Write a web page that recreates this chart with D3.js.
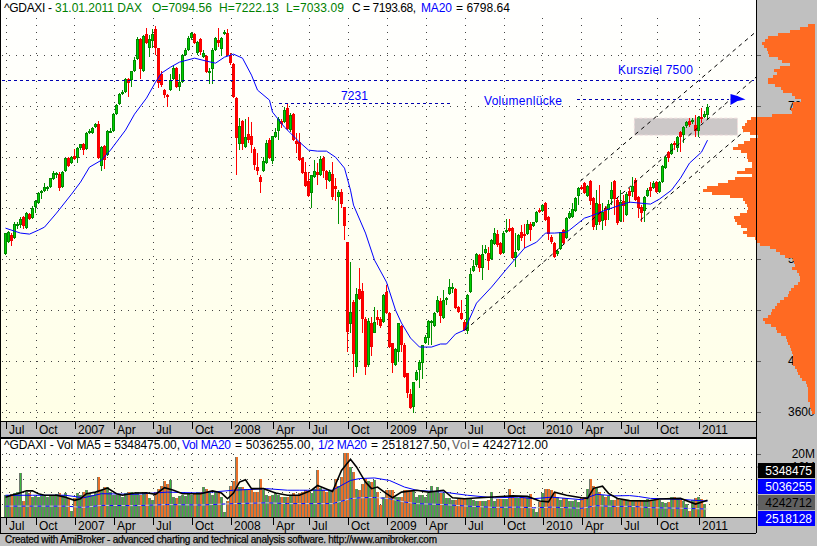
<!DOCTYPE html>
<html>
<head>
<meta charset="utf-8">
<script src="https://cdn.jsdelivr.net/npm/d3@7"></script>
<style>
  html, body { margin: 0; padding: 0; background: #c0c0c0; }
  svg { display: block; }
  text { font-family: "Liberation Sans", Arial, sans-serif; font-size: 12px; }
</style>
</head>
<body>
<svg id="chart" width="817" height="546"></svg>
<script>
// weekly DAX candles (index 0 = July 2006)
const opens = [5458,5598,5681,5646,5787,5799,5893,5763,5928,5881,6011,6058,6175,6198,6234,6245,6340,6387,6398,6245,6433,6587,6528,6610,6587,6704,6751,6692,6881,6881,6951,6987,6492,6728,6622,6892,6904,7104,7222,7340,7363,7516,7504,7610,7751,7986,7610,8045,7881,7963,8104,7881,7575,7387,7328,7387,7516,7645,7422,7481,7798,7857,7998,8045,7822,7986,7775,7786,7587,7634,7857,7975,7869,8045,8057,7798,7692,7293,6751,7022,6716,6869,6845,6692,6481,6363,6433,6528,6798,6551,6834,6904,7022,7010,7175,6916,7104,6786,6775,6587,6422,6316,6175,6363,6422,6387,6587,6433,6316,6398,6257,6128,6187,6011,5598,4635,4893,4129,5046,5022,4693,4152,4646,4529,4717,4693,4658,5011,4764,4411,4152,4305,4611,4387,4058,3811,3659,3976,4094,4176,4411,4470,4658,4611,4775,4905,4705,4917,4987,5058,5046,4834,4764,4658,4552,5011,5258,5328,5446,5293,5469,5469,5399,5575,5693,5587,5469,5716,5763,5763,5411,5505,5716,5693,5693,5810,5787,5834,5975,5963,6058,5893,5658,5587,5458,5516,5740,5646,5881,5893,5963,6140,6245,6292,6140,6316,6116,5799,6046,5845,5999,5975,6105,6316,6093,5845,6081,5916,6198,6187,6328,6128,6011,5963,6140,6245,6234,6304,6187,6304,6469,6657,6634,6763,6704,6892,6857,6963,7022,7010,6975,6904,7069,7069,7094];
const highs = [5705,5728,5705,5834,5834,5893,5904,5952,5940,6022,6093,6187,6210,6292,6257,6355,6433,6422,6422,6433,6592,6598,6610,6692,6716,6755,6763,6892,6928,6951,6998,7022,6728,6740,6916,6940,7116,7222,7351,7387,7528,7528,7615,7775,8010,7998,8033,8116,8033,8104,8139,7885,7610,7398,7340,7575,7669,7657,7575,7810,7881,8022,8069,8057,7963,7998,7857,7798,7645,7881,8010,8116,8010,8092,8104,7822,7704,7304,7057,7034,7045,7069,7010,6716,6645,6387,6598,6798,6822,6850,6940,7069,7045,7187,7222,7116,7116,6881,6881,6598,6539,6422,6390,6563,6528,6610,6610,6445,6445,6539,6351,6210,6222,6015,5602,5363,4917,5058,5293,5116,4717,4705,4717,4834,4799,4717,4987,5093,4775,4415,4352,4650,4623,4411,4062,3870,3957,4094,4211,4392,4505,4682,4682,4775,4964,4940,5034,4952,5164,5116,5058,4846,4917,4682,4987,5293,5387,5469,5458,5563,5563,5540,5634,5763,5740,5598,5728,5869,5869,5775,5705,5693,5799,5810,5857,5834,5838,5963,5999,6046,6069,5904,5681,5598,5505,5720,5752,5893,5963,6058,6128,6245,6269,6304,6269,6328,6128,6210,6269,6058,6022,6093,6304,6328,6116,6210,6152,6187,6234,6363,6351,6140,6034,6140,6234,6304,6316,6316,6316,6504,6610,6669,6763,6786,6845,6904,6963,7022,7057,7057,7092,7081,7175,7139,7222];
const lows = [5446,5587,5552,5640,5752,5763,5752,5758,5857,5869,5940,6046,6105,6187,6198,6234,6328,6351,6198,6234,6428,6488,6516,6563,6528,6681,6622,6681,6869,6869,6940,6575,6433,6457,6610,6881,6892,7092,7210,7328,7351,7304,7422,7598,7739,7516,7598,7928,7775,7881,7798,7410,7422,7293,7187,7375,7504,7410,7375,7469,7786,7845,7975,7928,7798,7798,7763,7587,7457,7457,7845,7892,7786,8033,7790,7681,7296,6387,6681,6681,6704,6763,6645,6445,6387,6175,6428,6516,6575,6516,6822,6798,6940,7005,6916,6892,6786,6645,6558,6398,6245,6128,5999,6351,6269,6375,6351,6222,6304,6093,6081,5810,5999,5622,4305,4529,4011,4058,4917,4529,4035,4129,4258,4525,4623,4587,4646,4752,4352,4058,4140,4188,4305,4000,3765,3635,3590,3965,3882,3988,4400,4387,4387,4600,4764,4646,4693,4858,4976,4999,4811,4764,4682,4552,4517,4999,5246,5305,5246,5152,5458,5269,5387,5563,5540,5446,5458,5705,5716,5399,5305,5493,5611,5528,5681,5611,5775,5822,5940,5952,5845,5622,5575,5411,5434,5505,5575,5634,5869,5881,5952,6034,6210,6163,6128,6034,5740,5740,5799,5740,5787,5857,6034,5916,5799,5834,5834,5904,6058,6128,6081,5881,5834,5834,6128,6128,6222,6175,6175,6292,6457,6539,6622,6681,6657,6657,6763,6940,6951,6987,6834,6834,6998,7057,7033];
const closes = [5705,5716,5611,5810,5810,5869,5787,5940,5869,5999,6081,6175,6198,6245,6245,6351,6410,6410,6234,6422,6587,6492,6598,6575,6704,6751,6681,6881,6904,6940,6987,6587,6716,6563,6904,6904,7104,7210,7340,7363,7516,7469,7610,7739,7986,7634,8022,7939,7986,8045,7881,7469,7445,7328,7316,7504,7645,7422,7481,7798,7857,7998,8057,7939,7951,7833,7822,7598,7610,7857,7998,7939,7998,8069,7798,7704,7304,6822,6963,6751,6834,6798,6740,6504,6433,6304,6551,6763,6587,6845,6892,7045,6987,7151,6928,7092,6798,6751,6563,6410,6257,6140,6387,6433,6387,6575,6433,6328,6422,6128,6222,6187,6046,5787,4540,4775,4282,4987,4928,4693,4129,4670,4364,4658,4682,4611,4976,4764,4364,4176,4340,4646,4387,4011,3823,3647,3953,4070,4188,4387,4482,4670,4670,4764,4917,4728,4917,4940,5069,5069,4823,4775,4693,4564,4976,5222,5316,5458,5293,5458,5516,5375,5622,5705,5563,5458,5705,5740,5728,5411,5481,5681,5646,5669,5810,5740,5834,5952,5952,6034,5857,5693,5598,5422,5493,5716,5587,5881,5940,5987,6116,6234,6234,6175,6257,6081,5775,6058,5834,5952,5857,6046,6210,6105,5822,6069,6022,6163,6140,6257,6093,5999,5940,6128,6210,6198,6292,6187,6304,6492,6598,6587,6751,6740,6834,6834,6951,7010,6975,7034,6904,7069,7057,7104,7193];

// 20 week average, read at the bends of the blue line
const ma20Weeks = [0,3,5,8,11,13,17,22,25,28,32,35,38,40,43,47,50,52,55,58,63,67,70,73,76,79,82,84,88,89,93,98,101,104,107,110,113,115,116,120,123,127,130,132,135,138,142,145,147,150,153,157,162,167,173,177,180,183,187,188,193,195,200,203,208,215,218,222,225,228,232,234];
const ma20Values = [5763,5728,5705,5693,5740,5775,5940,6163,6304,6481,6563,6681,6822,6916,7104,7293,7481,7587,7657,7716,7763,7728,7704,7775,7810,7763,7563,7387,7269,7128,6951,6775,6681,6669,6669,6598,6469,6210,6034,5705,5387,5128,4799,4646,4470,4364,4364,4400,4400,4517,4564,4881,5069,5281,5528,5598,5705,5705,5716,5740,5881,5904,5975,6011,6069,6046,6105,6210,6351,6528,6657,6798];

// weekly volume in millions
const volumes = [6.9,6.9,7.2,7.5,8,14,5,7.8,7.5,6.5,6.8,6.5,6.9,6.8,6.5,7,6.9,7.2,7.6,7,7.5,6,2,6,7.5,7,8,8.5,7.5,7,7.5,12.7,8.5,9.5,9.5,8,7,7,7,6.5,7.5,7.8,8,7.5,7.8,7,7.5,7.2,6,5.5,8,9,10,11.3,10.5,11.6,6.5,6,6.8,7,6.8,7.5,7,7.2,7.8,8,9.5,9,7.5,7,7.8,7.5,6.5,1.5,5,10,11.3,19,9.5,9.5,9,8.5,9,8,8,12,8.5,7,6.8,7,7.5,7,6.5,6.5,6.5,7,7.5,7,7.5,8,8.5,8,7.5,9,14.8,9.2,8.5,8,8.5,8.5,12,10,12.7,20.3,20.3,15.9,14.3,9,8.5,10.6,12,11.5,11,11.6,8,3.7,6.4,8.5,8.5,8.5,6.4,6.5,6.4,8.5,8.5,8.5,8.5,6.5,7,7,6.4,7.5,10,8,9.5,7.5,7.5,6,6,5.5,5.5,5.8,5.7,5.8,5.7,5.8,5.3,5.2,5.2,5.2,5.1,5.5,8,5.2,5.8,5.8,5.8,5.8,8.8,6.4,6,6,6.3,6.3,6.5,7.4,2.6,1.6,4.8,7.5,9,9,8.5,7.5,6.5,5.5,6,6,5.2,5.2,5.5,4.8,6.5,6.5,9,12,10,9.5,8,7,6.5,6.8,5.4,5.5,6,5.5,5.3,5.3,5.4,5.3,5.3,5.4,5.3,5.3,5.7,5.5,5.5,6,5.4,4.8,4.6,4.8,6.5,6.5,6,5.5,5,4,2,5.5,6,6.5,5.8,4.24];

const volMa5Weeks = [0,2,4,7,9,11,13,17,20,23,25,27,30,34,37,39,43,47,50,53,56,59,65,69,72,74,76,78,80,82,86,90,94,98,102,104,109,112,115,117,120,122,124,127,129,132,137,141,146,149,153,158,169,174,178,181,183,187,192,194,196,199,201,204,208,214,218,225,230,234];
const volMa5Values = [6.3,6.9,7.4,8.3,8.3,7.4,6.9,6.9,6.3,5.3,5.8,7.4,7.9,9.2,7.4,6.9,7.6,7.7,7.2,9.3,8.5,7.4,7.4,8.3,7.6,5.8,7.6,11.1,11.8,9,9,7.6,6.9,6.9,8.5,10,8.1,14.8,18.3,15.9,11.1,9,9.5,7.4,6.1,7.9,8.5,7.9,8.5,6.1,5.8,6.1,6.7,6.6,5.1,4.8,7.9,6.9,6.1,5.9,9.1,9.8,7.5,5.9,5.2,5.1,5.7,5.9,4.1,5.35];

const volMa20Weeks = [0,9,20,26,32,43,54,65,76,87,94,98,105,109,115,118,123,128,133,137,146,154,163,171,176,182,192,197,203,208,211,215,225,234];
const volMa20Values = [6.9,6.9,6.9,6.1,7.4,7.2,7.9,7.6,8.5,9,8.5,8.5,8.5,8.5,11.6,12.2,12.4,11.6,9.5,8.5,7.9,6.9,6.1,6.3,5.8,6.3,5.5,7.2,6.7,6.8,6.5,5.9,5.6,5.04];
const volHalfValues = [3.45,3.45,3.45,3.05,3.7,3.6,3.95,3.8,4.25,4.5,4.25,4.25,4.25,4.25,5.8,6.1,6.2,5.8,4.75,4.25,3.95,3.45,3.05,3.15,2.9,3.15,2.75,3.6,3.35,3.4,3.25,2.95,2.8,2.52];

// volume at price, top bin first
const profileTop = 8151, profileStep = 35.3;
const profileValues = [7,15,25,37,47,50,53,51,48,47,46,37,33,25,35,41,38,42,47,47,40,34,32,23,20,14,22,22,24,23,43,64,68,70,73,72,65,57,65,71,77,82,74,68,68,67,63,63,70,78,63,80,87,97,108,112,103,85,72,70,68,67,68,75,81,80,78,74,68,72,68,60,58,55,45,39,35,30,22,21,20,23,18,16,15,15,17,21,24,26,27,31,35,38,40,43,44,47,52,50,44,39,38,34,29,28,27,25,24,23,22,22,22,22,20,18,17,15,13,9,8,7,7,7,7,7,5,5,4,3];

const monthWeeks = [0,10,23,36,49,62,75,89,101,114,127,140,153,166,179,192,205,217,231];
const monthLabels = ["Jul","Oct","2007","Apr","Jul","Oct","2008","Apr","Jul","Oct","2009","Apr","Jul","Oct","2010","Apr","Jul","Oct","2011"];
const priceTicks = [3600,4200,4800,5400,6000,6600,7200,7800];
const volTicks = [4,8,12,16,20];
const volTickLabels = ["","","","16M","20M"];

// trend channel, as [week, price] pairs
const channelLines = [
  [[153.2,4564],[250.2,7540]],
  [[191.6,6316],[249.6,8057]],
  [[211.6,5857],[250.6,7034]]
];

const lastBoxes = [
  {label:"5348475", fill:"#000000", color:"#ffffff"},
  {label:"5036255", fill:"#0000ff", color:"#ffffff"},
  {label:"4242712", fill:"#606060", color:"#000000"},
  {label:"2518128", fill:"#0000ff", color:"#ffffff"}
];

const titleParts = [
  {x:4, t:"^GDAXI -", c:"#000", w:48},
  {x:55, t:"31.01.2011 DAX", c:"#008000", w:87},
  {x:152, t:"O=7094.56", c:"#008000", w:60},
  {x:219, t:"H=7222.13", c:"#008000", w:60},
  {x:286, t:"L=7033.09", c:"#008000", w:58},
  {x:352, t:"C = 7193.68,", c:"#000", w:64},
  {x:421, t:"MA20", c:"#0000ff", w:31},
  {x:456, t:"= 6798.64", c:"#000", w:54}
];
const volTitleParts = [
  {x:4, t:"^GDAXI - Vol MA5 = 5348475.00,", c:"#000", w:176},
  {x:182, t:"Vol MA20", c:"#0000ff", w:49},
  {x:235, t:"= 5036255.00,", c:"#000", w:79},
  {x:318, t:"1/2 MA20", c:"#0000ff", w:49},
  {x:371, t:"= 2518127.50,", c:"#000", w:79},
  {x:452, t:"Vol", c:"#606060", w:18},
  {x:472, t:"= 4242712.00", c:"#000", w:76}
];

const svg = d3.select("#chart");
const plotRight = 756, stripTop = 421, volTop = 437, volBottom = 517, stripBottom = 533;

const x = d3.scaleLinear().domain([0, 234]).range([5.5, 707.5]);
const y = d3.scaleLinear().domain([3600, 7800]).range([412, 55]);
const yVol = d3.scaleLinear().domain([0, 20]).range([volBottom, 454]);
const profileX = d3.scaleLinear().domain([0, 112]).range([815, 703]);

const defs = svg.append("defs");
const grad = defs.append("linearGradient").attr("id", "panelBg").attr("x1", 0).attr("x2", 0).attr("y1", 0).attr("y2", 1);
grad.append("stop").attr("offset", 0).attr("stop-color", "#ffffff");
grad.append("stop").attr("offset", 1).attr("stop-color", "#ffffe6");

// panels
svg.append("rect").attr("x", 0).attr("y", 0).attr("width", 817).attr("height", 546).attr("fill", "#c0c0c0");
svg.append("rect").attr("x", 1).attr("y", 0).attr("width", plotRight - 1).attr("height", stripTop).attr("fill", "url(#panelBg)");
svg.append("rect").attr("x", 1).attr("y", volTop).attr("width", plotRight - 1).attr("height", volBottom - volTop).attr("fill", "url(#panelBg)");

function grid(yScale, ticks, top, bottom) {
  const g = svg.append("g").attr("stroke", "#444").attr("stroke-dasharray", "1 6").attr("shape-rendering", "crispEdges");
  g.selectAll("line.h").data(ticks).join("line").attr("class", "h")
    .attr("x1", 2).attr("x2", plotRight)
    .attr("y1", d => Math.round(yScale(d)) + 0.5).attr("y2", d => Math.round(yScale(d)) + 0.5);
  g.selectAll("line.v").data(monthWeeks).join("line").attr("class", "v")
    .attr("x1", d => Math.round(x(d)) + 0.5).attr("x2", d => Math.round(x(d)) + 0.5)
    .attr("y1", top).attr("y2", bottom);
}
grid(y, priceTicks, 18, stripTop);
grid(yVol, volTicks, volTop + 16, volBottom);

// grey target zone
svg.append("rect")
  .attr("x", x(209.6)).attr("width", x(244) - x(209.6))
  .attr("y", y(7057)).attr("height", y(6857) - y(7057))
  .attr("fill", "#ccc8c8").attr("stroke", "#f2dede").attr("stroke-dasharray", "3 2");

// candles: wick, 3px body, bright core
const candles = svg.append("g").attr("shape-rendering", "crispEdges");
const weeks = d3.range(opens.length);
const isUp = i => closes[i] >= opens[i];
const bodyTop = i => Math.round(y(Math.max(opens[i], closes[i])));
const bodyHeight = i => Math.max(2, Math.round(y(Math.min(opens[i], closes[i]))) - bodyTop(i));
candles.selectAll("line").data(weeks).join("line")
  .attr("x1", x).attr("x2", x)
  .attr("y1", i => Math.round(y(highs[i]))).attr("y2", i => Math.round(y(lows[i])))
  .attr("stroke", i => isUp(i) ? "#009000" : "#ff0000");
candles.selectAll("rect.outer").data(weeks).join("rect").attr("class", "outer")
  .attr("x", i => x(i) - 1.5).attr("width", 3)
  .attr("y", bodyTop).attr("height", bodyHeight)
  .attr("fill", i => isUp(i) ? "#008a00" : "#f00000");
candles.selectAll("rect.inner").data(weeks).join("rect").attr("class", "inner")
  .attr("x", i => x(i) - 0.5).attr("width", i => isUp(i) ? 1 : 2)
  .attr("y", i => bodyTop(i) + 1).attr("height", i => Math.max(0, bodyHeight(i) - 2))
  .attr("fill", i => isUp(i) ? "#00d000" : "#ff0000");

// MA20
const maLine = d3.line().x((d, i) => x(ma20Weeks[i])).y(d => y(d));
svg.append("path").attr("d", maLine(ma20Values)).attr("fill", "none").attr("stroke", "#0000ff").attr("stroke-width", 1);

// channel and horizontal levels
const priceLine = d3.line().x(d => x(d[0])).y(d => y(d[1]));
svg.selectAll("path.channel").data(channelLines).join("path").attr("class", "channel")
  .attr("d", priceLine).attr("fill", "none").attr("stroke", "#000").attr("stroke-dasharray", "4 4");

const levels = [
  [[-1.3,7500],[249.5,7500]],
  [[91,7231],[149,7231]],
  [[190.6,7281],[241,7281]]
];
svg.selectAll("path.level").data(levels).join("path").attr("class", "level")
  .attr("d", priceLine).attr("fill", "none").attr("stroke", "#0000b0").attr("stroke-dasharray", "3 3")
  .attr("shape-rendering", "crispEdges");

// arrow head at the end of the Volumenluecke line
svg.append("path")
  .attr("transform", `translate(${x(241)},${y(7281)})`)
  .attr("d", "M2,-5 L9,-3 L17,0.5 L9,2 L2,6 Z")
  .attr("fill", "#0000ff");

const notes = [
  {t:"Kursziel 7500", x:618, y:74, w:75},
  {t:"7231", x:341, y:100, w:27},
  {t:"Volumenlücke", x:484, y:105, w:78}
];
svg.selectAll("text.note").data(notes).join("text").attr("class", "note")
  .attr("x", d => d.x).attr("y", d => d.y).attr("textLength", d => d.w)
  .attr("fill", "#0000ff").text(d => d.t);

// price scale, the profile is painted over it afterwards
const priceAxis = d3.axisRight(y).tickValues(priceTicks).tickSize(4).tickPadding(27).tickFormat(d3.format("d"));
const priceAxisG = svg.append("g").attr("transform", `translate(${plotRight + 1},0)`).call(priceAxis);
priceAxisG.select(".domain").remove();
priceAxisG.selectAll(".tick line").attr("stroke", "#606060");
priceAxisG.selectAll(".tick text").attr("fill", "#000").style("font-size", "12px");

svg.append("g").attr("fill", "#ff6a22").attr("shape-rendering", "crispEdges")
  .selectAll("rect").data(profileValues).join("rect")
  .attr("x", d => profileX(d)).attr("width", d => 815 - profileX(d))
  .attr("y", (d, i) => y(profileTop - i * profileStep) - 1.5)
  .attr("height", y(0) - y(profileStep) + 0.5);

// strips under each panel
function monthAxis(top) {
  const axis = d3.axisBottom(x).tickValues(monthWeeks).tickSize(8)
    .tickFormat((d, i) => monthLabels[i]);
  const g = svg.append("g").attr("transform", `translate(0,${top})`).call(axis);
  g.select(".domain").remove();
  g.selectAll(".tick line").attr("stroke", "#000").attr("shape-rendering", "crispEdges");
  g.selectAll(".tick text").attr("fill", "#000").attr("text-anchor", "start")
    .attr("x", 3).attr("y", 2).attr("dy", "0.9em").style("font-size", "12px");
}
monthAxis(stripTop);
monthAxis(volBottom);

// volume bars
const volBars = svg.append("g").attr("shape-rendering", "crispEdges");
volBars.selectAll("rect.side").data(weeks).join("rect").attr("class", "side")
  .attr("x", i => x(i) - 1.5).attr("width", 3)
  .attr("y", i => yVol(volumes[i])).attr("height", i => volBottom - yVol(volumes[i]))
  .attr("fill", "#6e7a6e");
volBars.selectAll("rect.core").data(weeks).join("rect").attr("class", "core")
  .attr("x", i => x(i) - 0.5).attr("width", i => isUp(i) ? 1 : 2)
  .attr("y", i => yVol(volumes[i])).attr("height", i => volBottom - yVol(volumes[i]))
  .attr("fill", i => isUp(i) ? "#3cb53c" : "#e8702a");

const lineFrom = w => d3.line().x((d, i) => x(w[i])).y(d => yVol(d));
svg.append("path").attr("d", lineFrom(volMa20Weeks)(volHalfValues)).attr("fill", "none").attr("stroke", "#d0d0d0").attr("stroke-width", 1);
svg.append("path").attr("d", lineFrom(volMa20Weeks)(volHalfValues)).attr("fill", "none").attr("stroke", "#0000ff").attr("stroke-dasharray", "4 4");
svg.append("path").attr("d", lineFrom(volMa20Weeks)(volMa20Values)).attr("fill", "none").attr("stroke", "#0000ff");
svg.append("path").attr("d", lineFrom(volMa5Weeks)(volMa5Values)).attr("fill", "none").attr("stroke", "#000").attr("stroke-width", 1.6);

// volume scale
const volAxis = d3.axisRight(yVol).tickValues(volTicks).tickSize(4).tickPadding(18)
  .tickFormat((d, i) => volTickLabels[i]);
const volAxisG = svg.append("g").attr("transform", `translate(${plotRight + 1},0)`).call(volAxis);
volAxisG.select(".domain").remove();
volAxisG.selectAll(".tick line").attr("stroke", "#606060");
volAxisG.selectAll(".tick text").attr("fill", "#000").attr("text-anchor", "end").attr("x", 58).style("font-size", "12px");

// last value boxes
const boxes = svg.append("g").selectAll("g").data(lastBoxes).join("g")
  .attr("transform", (d, i) => `translate(758,${463 + i * 16})`);
boxes.append("rect").attr("width", 57).attr("height", 15).attr("fill", d => d.fill);
boxes.append("text").attr("x", 54).attr("y", 12).attr("text-anchor", "end").attr("fill", d => d.color).text(d => d.label);

// frame lines
const frame = svg.append("g").attr("stroke", "#000").attr("shape-rendering", "crispEdges");
frame.append("line").attr("x1", 0.5).attr("x2", 0.5).attr("y1", 0).attr("y2", stripBottom);
frame.append("line").attr("x1", plotRight + 0.5).attr("x2", plotRight + 0.5).attr("y1", 0).attr("y2", stripBottom);
[stripTop, volTop, volBottom, stripBottom].forEach(v => {
  frame.append("line").attr("x1", 0).attr("x2", plotRight).attr("y1", v + 0.5).attr("y2", v + 0.5).attr("stroke-width", v === volTop ? 2 : 1);
});

// titles
function drawTitle(parts, baseline) {
  svg.append("g").selectAll("text").data(parts).join("text")
    .attr("x", d => d.x).attr("y", baseline).attr("fill", d => d.c).attr("textLength", d => d.w).text(d => d.t);
}
drawTitle(titleParts, 12);
drawTitle(volTitleParts, 449);

svg.append("text").attr("x", 5).attr("y", 543).attr("textLength", 432)
  .style("font-size", "10px").attr("stroke", "#000").attr("stroke-width", 0.25).attr("fill", "#000")
  .text("Created with AmiBroker - advanced charting and technical analysis software. http://www.amibroker.com");
</script>
</body>
</html>
